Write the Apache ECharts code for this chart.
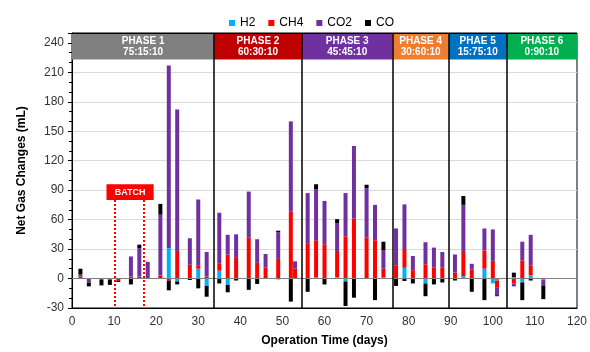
<!DOCTYPE html>
<html>
<head>
<meta charset="utf-8">
<script src="https://cdn.jsdelivr.net/npm/echarts@6/dist/echarts.min.js"></script>
<style>
  html, body { margin: 0; padding: 0; background: #fff; }
  #chart { width: 590px; height: 352px; }
</style>
</head>
<body>
<div id="chart"></div>
<script>
// operation day of each measurement
const days = [2, 4, 7, 9, 11, 14, 16, 18, 21, 23, 25, 28, 30, 32,
  35, 37, 39, 42, 44, 46, 49, 52, 53,
  56, 58, 60, 63, 65, 67, 70, 72, 74,
  77, 79, 81, 84, 86, 88,
  91, 93, 95, 98, 100, 101,
  105, 107, 109, 112];

// net gas change per gas (mL)
const h2 = [0, 0, 0, -1, 0, 0, 0, 0, 0, 31, -3, 0, 10, -7.5,
  8, -6.5, -0.5, 0, 0, 0, -1, 0, 0,
  0, 1, 0, 1.5, -3, 0, 0, 0, 1,
  0.5, 11, 0, -5, 0, 0,
  0, 2.5, 0, 10, -5, -2,
  1.5, -4, 3.5, -1];
const ch4 = [2, 0, 0, 0, -2.5, 2, 2, 0, 3, -2, 28, 14, 3.5, 2,
  7, 24.5, 21, 41.5, 16, 11, 20, 68, 10,
  36, 38, 35, 26.5, 43, 61, 42, 39, 9,
  13, 19, 8.5, 14.5, 11, 11,
  6, 24.5, 9, 18.5, 18, -7.5,
  -5, 18.5, 9.5, 0];
const co2 = [2, -4, -1.5, 0, 0, 20.5, 29, 17, 62, 186, 144, 27, 67, 25,
  52, 20, 24, 47, 24, 14, 27, 92, 7.5,
  51, 52, 44, 28.5, 44, 74, 50, 36, 19,
  37.5, 45.5, 14.5, 22.5, 20.5, 16,
  18.5, 48, 6, 22.5, 32, -7.5,
  -3, 19, 31.5, -6];
const co = [6, -4, -5.5, -5.5, -1, -6, 3.5, 0, 11, -10, -3, -1.5, -10, -11,
  -5, -7.5, -1.5, -11.5, -5.5, 0, 1.7, -23.5, 0,
  -13.5, 5, -6, 4, -25, -19.5, 3.5, -22, 8.5,
  -7.5, -2.5, -5, -13, -6, -4,
  -2, 9, -13.5, -22, 0, -1,
  4.5, -18, -2, -14];

// phases
const phaseNames = ["PHASE 1\n75:15:10", "PHASE 2\n60:30:10", "PHASE 3\n45:45:10",
  "PHASE 4\n30:60:10", "PHAE 5\n15:75:10", "PHASE 6\n0:90:10"];
const phaseStart = [0, 33.8, 54.6, 76.2, 89.5, 103.3];
const phaseEnd = [33.8, 54.6, 76.2, 89.5, 103.3, 120];
const phaseColors = ["#808080", "#c00000", "#7030a0", "#ed7d31", "#0070c0", "#00b050"];

// batch period
const batchDays = [10.2, 17];

const font = "'Liberation Sans', Arial, sans-serif";

// [value, day] so that the value column is the one stacked
function pairs(vals) {
  return days.map((d, i) => [vals[i], d]);
}

let chart = echarts.init(document.getElementById("chart"));

const phaseAreas = phaseNames.map((name, i) => [
  { name: name, xAxis: phaseStart[i], yAxis: 223, itemStyle: { color: phaseColors[i], opacity: 1 } },
  { xAxis: phaseEnd[i], yAxis: 250 },
]);

const batchArea = [[
  { name: "BATCH", xAxis: 8.2, yAxis: 80, itemStyle: { color: "#ff0000", opacity: 1 } },
  { xAxis: 19.4, yAxis: 96 },
]];

const dividers = phaseStart.slice(1);
const batchLines = batchDays.map((x) => [{ coord: [x, 80] }, { coord: [x, -30] }]);

function barSeries(name, vals, color) {
  return {
    name: name,
    type: "bar",
    stack: "gas",
    barWidth: 4,
    data: pairs(vals),
    encode: { x: 1, y: 0 },
    itemStyle: { color: color },
    emphasis: { disabled: true },
  };
}

let series = [
  barSeries("H2", h2, "#00b0f0"),
  barSeries("CH4", ch4, "#ff0000"),
  barSeries("CO2", co2, "#7030a0"),
  barSeries("CO", co, "#000000"),
];

// phase header boxes
series[0].markArea = {
  silent: true,
  z: 1,
  label: { show: true, position: "inside", color: "#fff", fontWeight: "bold", fontSize: 10, lineHeight: 11, fontFamily: font },
  data: phaseAreas,
};
// batch label
series[1].markArea = {
  silent: true,
  z: 3,
  label: { show: true, position: "inside", color: "#fff", fontWeight: "bold", fontSize: 9, fontFamily: font },
  data: batchArea,
};
series[1].markLine = {
  silent: true,
  symbol: "none",
  label: { show: false },
  lineStyle: { color: "#ff0000", type: "dotted", width: 2 },
  data: batchLines,
};
// zero line + phase dividers
series[3].markLine = {
  silent: true,
  symbol: "none",
  z: 6,
  label: { show: false },
  data: [
    { yAxis: 0, lineStyle: { color: "#808080", width: 1, type: "solid" } },
    { yAxis: 250, lineStyle: { color: "#000", width: 1, type: "solid" } },
  ].concat(dividers.map((x) => ({ xAxis: x, lineStyle: { color: "#000", width: 1.5, type: "solid" } }))),
};

let option = {
  animation: false,
  textStyle: { fontFamily: font },
  legend: {
    top: 12,
    left: 224,
    itemWidth: 6,
    itemHeight: 6,
    itemGap: 13,
    icon: "rect",
    textStyle: { fontSize: 12, color: "#000", fontFamily: font },
    data: ["H2", "CH4", "CO2", "CO"],
  },
  grid: {
    left: 72,
    right: 10,
    top: 33,
    bottom: 42,
    show: true,
    borderColor: "#000",
    borderWidth: 1,
  },
  xAxis: {
    type: "value",
    min: 0,
    max: 120,
    interval: 10,
    name: "Operation Time (days)",
    nameLocation: "middle",
    nameGap: 27,
    nameTextStyle: { fontWeight: "bold", fontSize: 12, color: "#000", fontFamily: font },
    axisLine: { show: true, onZero: false, lineStyle: { color: "#000" } },
    axisTick: { show: false },
    splitLine: { show: false },
    axisLabel: { fontSize: 12, color: "#333", margin: 8 },
  },
  yAxis: {
    type: "value",
    min: -30,
    max: 250,
    interval: 30,
    name: "Net Gas Changes (mL)",
    nameLocation: "middle",
    nameGap: 44,
    nameTextStyle: { fontWeight: "bold", fontSize: 12, color: "#000", fontFamily: font },
    axisLine: { show: true, lineStyle: { color: "#000" } },
    axisTick: { show: true, length: 4, lineStyle: { color: "#000" } },
    minorTick: { show: true, splitNumber: 3, length: 3, lineStyle: { color: "#000" } },
    splitLine: { show: true, lineStyle: { color: "#d9d9d9", width: 1 } },
    axisLabel: { fontSize: 12, color: "#333", margin: 8, showMaxLabel: false },
  },
  series: series,
};
option && chart.setOption(option);
</script>
</body>
</html>
